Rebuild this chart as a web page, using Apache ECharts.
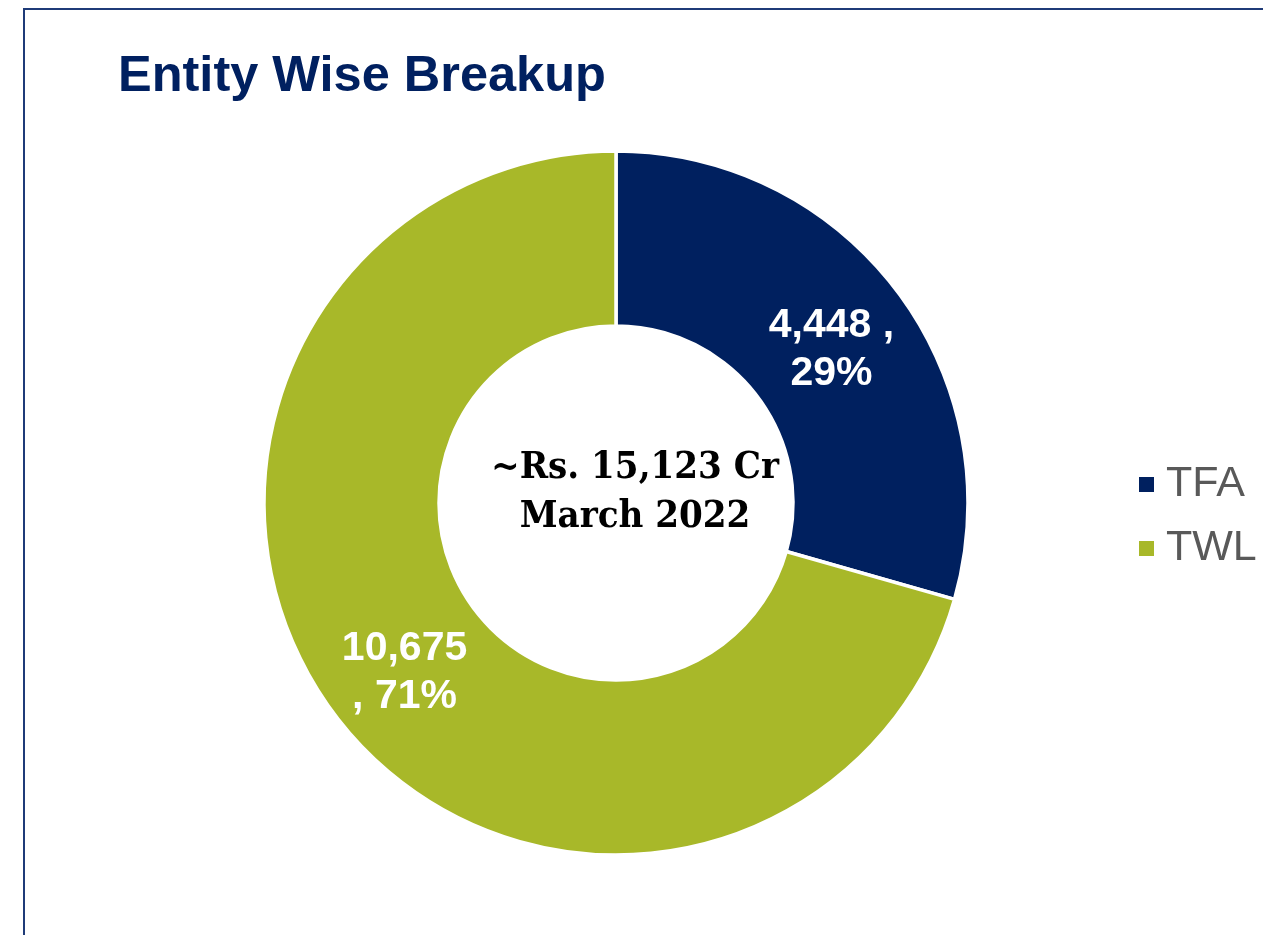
<!DOCTYPE html>
<html>
<head>
<meta charset="utf-8">
<script src="https://cdn.jsdelivr.net/npm/echarts@6/dist/echarts.min.js"></script>
<style>
  html, body { margin: 0; padding: 0; background: #fff; }
  #chart { width: 1263px; height: 935px; }
</style>
</head>
<body>
<div id="chart"></div>
<script>
const entities = ['TFA', 'TWL'];
const amounts = [4448, 10675];
const colors = ['#00205f', '#a8b829'];
// where the label wraps, as in the original
const labelBreak = ['afterComma', 'beforeComma'];

function fmt(n) {
  return n.toLocaleString('en-US');
}

const chart = echarts.init(document.getElementById('chart'));

chart.setOption({
  animation: false,
  title: {
    text: 'Entity Wise Breakup',
    left: 113,
    top: 47,
    textStyle: {
      fontFamily: 'Liberation Sans, Arial',
      fontWeight: 'bold',
      fontSize: 50.5,
      color: '#002060'
    }
  },
  legend: {
    orient: 'vertical',
    left: 1137,
    top: 463,
    padding: 0,
    itemWidth: 17,
    itemHeight: 17,
    itemGap: 21,
    icon: 'rect',
    data: entities,
    textStyle: {
      fontFamily: 'Liberation Sans, Arial',
      fontSize: 43,
      lineHeight: 42,
      color: '#595959',
      padding: [0, 0, 0, 6]
    }
  },
  graphic: [
    {
      type: 'rect',
      silent: true,
      shape: { x: 24, y: 9, width: 1400, height: 1100 },
      style: { fill: 'none', stroke: '#1f3b78', lineWidth: 2 }
    },
    {
      type: 'text',
      silent: true,
      x: 635,
      y: 493,
      style: {
        text: '~Rs. 15,123 Cr\nMarch 2022',
        x: 0,
        y: 0,
        align: 'center',
        verticalAlign: 'middle',
        fontFamily: 'DejaVu Serif Condensed, DejaVu Serif',
        fontWeight: 'bold',
        fontSize: 38,
        lineHeight: 49,
        fill: '#000'
      }
    }
  ],
  series: [
    {
      type: 'pie',
      center: [616, 503],
      radius: [177, 352],
      startAngle: 90,
      clockwise: true,
      label: {
        position: 'inside',
        offset: [2, 8],
        color: '#fff',
        fontFamily: 'Liberation Sans, Arial',
        fontWeight: 'bold',
        fontSize: 41,
        lineHeight: 48,
        formatter: function (p) {
          const v = fmt(p.value);
          const pc = Math.round(p.percent) + '%';
          return labelBreak[p.dataIndex] === 'afterComma'
            ? v + ' ,\n' + pc
            : v + '\n, ' + pc;
        }
      },
      labelLine: { show: false },
      itemStyle: { borderColor: '#fff', borderWidth: 3.5 },
      emphasis: { disabled: true },
      data: entities.map((name, i) => ({
        name: name,
        value: amounts[i],
        itemStyle: { color: colors[i] }
      }))
    }
  ]
});
</script>
</body>
</html>
